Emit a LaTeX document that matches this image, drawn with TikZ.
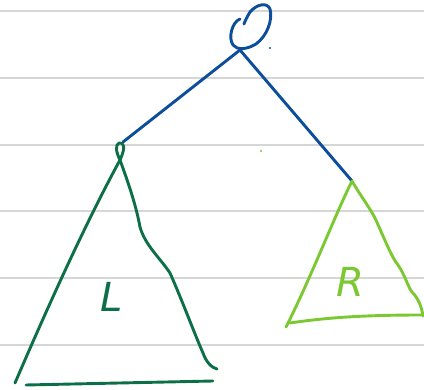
\documentclass[tikz,border=0pt]{standalone}
\usepackage{fontspec}
\setmainfont{DejaVu Sans}
\definecolor{rule}{HTML}{D6D6D6}
\definecolor{inkblue}{HTML}{0C4E9A}
\definecolor{inkdark}{HTML}{0D6F48}
\definecolor{inklight}{HTML}{7CC832}
\begin{document}
\begin{tikzpicture}[x=1pt,y=-1pt,
  ruleline/.style={draw=rule,line width=1.6pt},
  pen/.style={line width=2.9pt,line cap=round,line join=round},
  lbl/.style={font=\fontsize{40}{40}\selectfont\itshape,inner sep=0pt}]
\useasboundingbox (0,0) rectangle (424,390);
\fill[white] (0,0) rectangle (424,390);
\foreach \y in {11,78,145,211,278,345} \draw[ruleline] (0,\y) -- (424,\y);
% root
\coordinate (root) at (240,50);
\coordinate (lt) at (123,142);
\coordinate (rt) at (352,181);
\draw[pen,inkblue] (240,19) .. controls (232,22) and (228,38) .. (233,45)
  .. controls (237,50) and (246,50) .. (256,44)
  .. controls (267,36) and (273,20) .. (270,9)
  .. controls (267,2) and (257,4) .. (250,12)
  .. controls (247,17) and (245,21) .. (244,24);
\fill[inkblue] (270,48) circle (1.1);
\draw[pen,inkblue] (root) -- (lt);
\draw[pen,inkblue] (root) -- (rt);
% left subtree
\coordinate (la) at (120,160);
\draw[pen,inkdark] (la) .. controls (116,152) and (115,145) .. (119,143)
  .. controls (124,142) and (126,147) .. (120,160);
\draw[pen,inkdark] (la) .. controls (90,215) and (55,290) .. (15,383);
\draw[pen,inkdark] (la) .. controls (128,182) and (136,205) .. (140,227)
  .. controls (145,245) and (160,258) .. (170,273)
  .. controls (182,300) and (195,335) .. (203,353)
  .. controls (206,362) and (212,368) .. (217,369);
\draw[pen,inkdark] (26,385) -- (213,381);
\node[lbl,text=inkdark] (L) at (112,297) {L};
% right subtree
\draw[pen,inklight] (rt) .. controls (335,215) and (310,280) .. (286,327);
\draw[pen,inklight] (rt) .. controls (360,195) and (368,205) .. (375,218)
  .. controls (385,240) and (392,258) .. (398,265)
  .. controls (405,275) and (408,287) .. (412,292)
  .. controls (420,300) and (422,310) .. (423,316);
\draw[pen,inklight] (290,323) .. controls (330,317) and (370,315) .. (423,315);
\node[lbl,text=inklight] (R) at (350,282) {R};
\fill[inklight] (261,151) circle (1.1);
\end{tikzpicture}
\end{document}
